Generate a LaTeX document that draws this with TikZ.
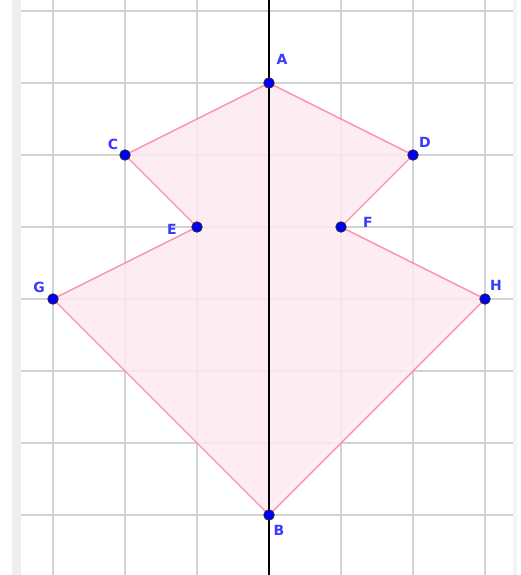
\documentclass[tikz,border=0pt]{standalone}
\usepackage{fontspec}
\setmainfont{DejaVu Sans}
\definecolor{gridc}{HTML}{D3D3D3}
\definecolor{edgec}{HTML}{FF8FAB}
\definecolor{fillc}{HTML}{FDE9EF}
\definecolor{ptc}{HTML}{0000FF}
\definecolor{labc}{HTML}{3A3AFF}
\definecolor{stripc}{HTML}{EEEFF1}
\tikzset{
  pt/.style={circle,fill=ptc,draw=black!85,line width=0.8pt,inner sep=0pt,minimum size=10.5pt},
  lab/.style={text=labc,font=\bfseries\fontsize{14}{16}\selectfont,inner sep=0pt}
}
\begin{document}
\begin{tikzpicture}[x=1pt,y=-1pt]
\useasboundingbox (0,0) rectangle (521,575);
\fill[white] (0,0) rectangle (521,575);
\fill[stripc] (12,0) rectangle (21,575);
\fill[stripc!70] (513,0) rectangle (517,575);
% grid
\foreach \x in {53,125,197,341,413,485} \draw[gridc,line width=1.5pt] (\x,0) -- (\x,575);
\foreach \y in {11,83,155,227,299,371,443,515} \draw[gridc,line width=1.5pt] (21,\y) -- (513,\y);
% points
\coordinate (A) at (269,83);
\coordinate (C) at (125,155);
\coordinate (D) at (413,155);
\coordinate (E) at (197,227);
\coordinate (F) at (341,227);
\coordinate (G) at (53,299);
\coordinate (H) at (485,299);
\coordinate (B) at (269,515);
\fill[fillc,fill opacity=0.85] (A) -- (D) -- (F) -- (H) -- (B) -- (G) -- (E) -- (C) -- cycle;
% axis
\draw[black,line width=1.3pt] (269,0) -- (269,575);
\draw[edgec,line width=1.4pt,line join=round] (A) -- (D) -- (F) -- (H) -- (B) -- (G) -- (E) -- (C) -- cycle;
\foreach \p in {A,B,C,D,E,F,G,H} \node[pt] (n\p) at (\p) {};
\node[lab] (lA) at (282,59) {A};
\node[lab] (lC) at (113,144) {C};
\node[lab] (lD) at (425,142) {D};
\node[lab] (lE) at (172,229) {E};
\node[lab] (lF) at (368,222) {F};
\node[lab] (lG) at (39,287) {G};
\node[lab] (lH) at (496,285) {H};
\node[lab] (lB) at (279,530) {B};
\end{tikzpicture}
\end{document}
